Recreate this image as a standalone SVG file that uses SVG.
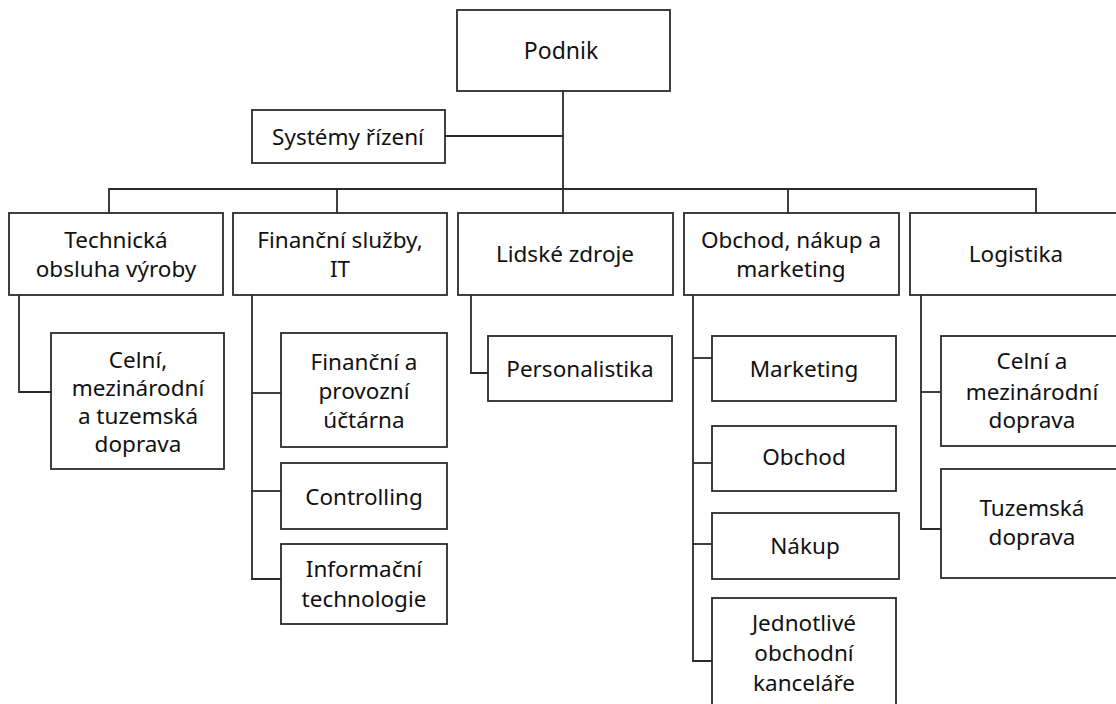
<svg xmlns="http://www.w3.org/2000/svg" width="1116" height="704" viewBox="0 0 1116 704">
<style>
rect.b{fill:#fff;stroke:#2b2b2b;stroke-width:1.8}
text{font-family:"Noto Sans","Liberation Sans",sans-serif;font-size:22.5px;fill:#111;text-anchor:middle}
.c line,.c path{stroke:#2b2b2b;stroke-width:1.8;fill:none}
</style>
<rect width="1116" height="704" fill="#fff"/>
<g class="c" id="connectors">
<path d="M563 91V213"/>
<path d="M445 136H563"/>
<path d="M109 213V189H1036V213"/>
<path d="M337 189V213"/>
<path d="M788 189V213"/>
<path d="M19 295V392H51"/>
<path d="M252 295V579H281"/>
<path d="M252 393H281"/>
<path d="M252 491H281"/>
<path d="M471 295V373H488"/>
<path d="M693 295V661H712"/>
<path d="M693 358H712"/>
<path d="M693 463H712"/>
<path d="M693 544H712"/>
<path d="M921 295V529H941"/>
<path d="M921 392H941"/>
</g>
<g id="podnik"><rect class="b" x="457" y="10" width="213" height="81"/><text x="561" y="59" style="font-size:23px">Podnik</text></g>
<g id="systemy"><rect class="b" x="252" y="110" width="193" height="53"/><text x="348" y="145">Systémy řízení</text></g>
<g id="technicka"><rect class="b" x="9" y="213" width="214" height="82"/><text x="116" y="248">Technická</text><text x="116" y="277">obsluha výroby</text></g>
<g id="financni"><rect class="b" x="233" y="213" width="214" height="82"/><text x="340" y="248">Finanční služby,</text><text x="340" y="277">IT</text></g>
<g id="lidske"><rect class="b" x="458" y="213" width="215" height="82"/><text x="565" y="262">Lidské zdroje</text></g>
<g id="obchod-nakup"><rect class="b" x="684" y="213" width="215" height="82"/><text x="791" y="248">Obchod, nákup a</text><text x="791" y="277">marketing</text></g>
<g id="logistika"><rect class="b" x="910" y="213" width="216" height="82"/><text x="1016" y="262">Logistika</text></g>
<g id="celni-tuz"><rect class="b" x="51" y="333" width="173" height="136"/><text x="138" y="368">Celní,</text><text x="138" y="396">mezinárodní</text><text x="138" y="424">a tuzemská</text><text x="138" y="452">doprava</text></g>
<g id="uctarna"><rect class="b" x="281" y="333" width="166" height="114"/><text x="364" y="370">Finanční a</text><text x="364" y="399">provozní</text><text x="364" y="428">účtárna</text></g>
<g id="controlling"><rect class="b" x="281" y="463" width="166" height="66"/><text x="364" y="505">Controlling</text></g>
<g id="it"><rect class="b" x="281" y="544" width="166" height="80"/><text x="364" y="577">Informační</text><text x="364" y="607">technologie</text></g>
<g id="personalistika"><rect class="b" x="488" y="336" width="184" height="65"/><text x="580" y="377">Personalistika</text></g>
<g id="marketing"><rect class="b" x="712" y="336" width="184" height="65"/><text x="804" y="377">Marketing</text></g>
<g id="obchod"><rect class="b" x="712" y="426" width="184" height="65"/><text x="804" y="465">Obchod</text></g>
<g id="nakup"><rect class="b" x="712" y="513" width="187" height="66"/><text x="805" y="554">Nákup</text></g>
<g id="kancelare"><rect class="b" x="712" y="598" width="184" height="120"/><text x="804" y="631">Jednotlivé</text><text x="804" y="661">obchodní</text><text x="804" y="691">kanceláře</text></g>
<g id="celni-mez"><rect class="b" x="941" y="336" width="185" height="110"/><text x="1032" y="369">Celní a</text><text x="1032" y="400">mezinárodní</text><text x="1032" y="428">doprava</text></g>
<g id="tuzemska"><rect class="b" x="941" y="469" width="185" height="109"/><text x="1032" y="516">Tuzemská</text><text x="1032" y="545">doprava</text></g>
</svg>
